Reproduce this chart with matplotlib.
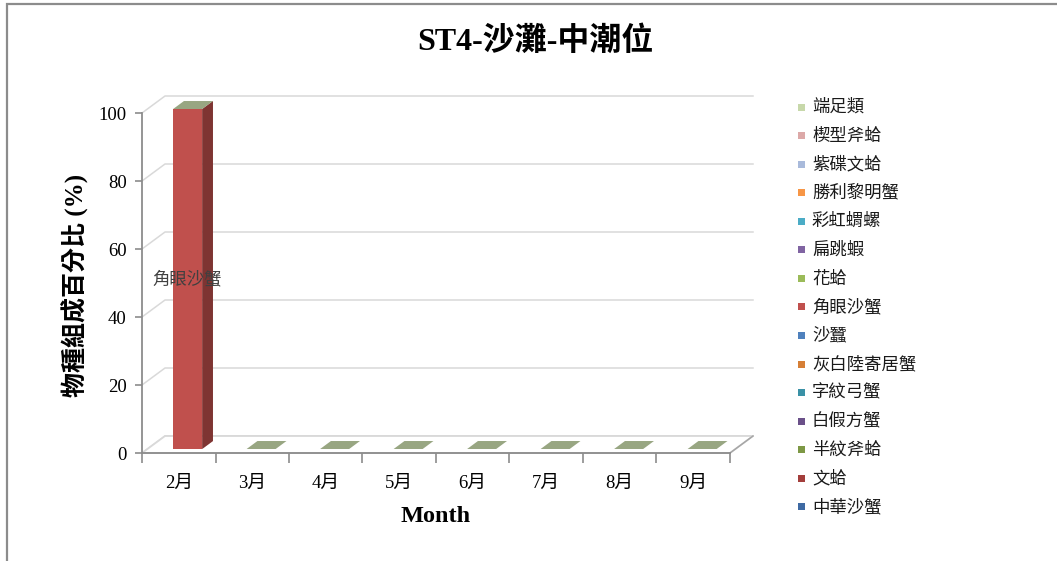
import matplotlib
matplotlib.use("Agg")
import matplotlib.pyplot as plt
from matplotlib.patches import Polygon, Rectangle
from matplotlib.lines import Line2D

plt.rcParams['font.family'] = ['Liberation Serif', 'Noto Sans CJK TC']

# ---------------- data ----------------
months = ['2月', '3月', '4月', '5月', '6月', '7月', '8月', '9月']
yticks = [0, 20, 40, 60, 80, 100]

# series in stacking order (bottom -> top); percent per month
species = ['中華沙蟹', '文蛤', '半紋斧蛤', '白假方蟹', '字紋弓蟹', '灰白陸寄居蟹',
           '沙蠶', '角眼沙蟹', '花蛤', '扁跳蝦', '彩虹蝟螺', '勝利黎明蟹',
           '紫碟文蛤', '楔型斧蛤', '端足類']
v_chinese_mole_crab = [0, 0, 0, 0, 0, 0, 0, 0]
v_hard_clam = [0, 0, 0, 0, 0, 0, 0, 0]
v_donax_semi = [0, 0, 0, 0, 0, 0, 0, 0]
v_white_crab = [0, 0, 0, 0, 0, 0, 0, 0]
v_varuna = [0, 0, 0, 0, 0, 0, 0, 0]
v_hermit = [0, 0, 0, 0, 0, 0, 0, 0]
v_worm = [0, 0, 0, 0, 0, 0, 0, 0]
v_ghost_crab = [100, 0, 0, 0, 0, 0, 0, 0]
v_manila = [0, 0, 0, 0, 0, 0, 0, 0]
v_amphipod_flat = [0, 0, 0, 0, 0, 0, 0, 0]
v_umbonium = [0, 0, 0, 0, 0, 0, 0, 0]
v_matuta = [0, 0, 0, 0, 0, 0, 0, 0]
v_purple_clam = [0, 0, 0, 0, 0, 0, 0, 0]
v_donax_cun = [0, 0, 0, 0, 0, 0, 0, 0]
v_amphipoda = [0, 0, 0, 0, 0, 0, 0, 0]
series_values = [v_chinese_mole_crab, v_hard_clam, v_donax_semi, v_white_crab,
                 v_varuna, v_hermit, v_worm, v_ghost_crab, v_manila,
                 v_amphipod_flat, v_umbonium, v_matuta, v_purple_clam,
                 v_donax_cun, v_amphipoda]

colors = ['#3E6AA3', '#A33E3B', '#7D9845', '#6A5089', '#3A91A6', '#D67F36',
          '#4F81BD', '#C0504D', '#9BBB59', '#8064A2', '#4BACC6', '#F79646',
          '#A9BADB', '#DCA9A8', '#C7D8AA']
top_face_color = '#98A682'

# ---------------- figure ----------------
W, H = 1057, 561
fig = plt.figure(figsize=(W / 100, H / 100), dpi=100)
fig.patch.set_facecolor('white')

# outer chart border (only top & left visible in the reference)
fig.patches.append(Rectangle((7 / W, -0.1), 1.2, 1 - 4 / H + 0.1,
                             transform=fig.transFigure, fill=False,
                             edgecolor='#8C8C8C', lw=1.6))

left_px, right_px, y0_px, y100_px = 142, 730, 453, 113
ax = fig.add_axes([left_px / W, (H - y0_px) / H, (right_px - left_px) / W,
                   (y0_px - y100_px) / H])
n = len(months)
ax.set_xlim(0, n)
ax.set_ylim(0, 100)
ax.patch.set_alpha(0)

px_per_x = (right_px - left_px) / n
px_per_y = (y0_px - y100_px) / 100
DX = 23 / px_per_x      # depth offset in x data units
DY = 17 / px_per_y      # depth offset in y data units


def P(x, y, d):
    return (x + d * DX, y + d * DY)


grid_c = '#D9D9D9'
axis_c = '#8C8C8C'

# walls / gridlines
for t in yticks:
    xs = [P(0, t, 0)[0], P(0, t, 1)[0], P(n, t, 1)[0]]
    ys = [P(0, t, 0)[1], P(0, t, 1)[1], P(n, t, 1)[1]]
    ax.add_line(Line2D(xs, ys, color=grid_c, lw=1.1, clip_on=False, zorder=1))
# floor
floor = [P(0, 0, 0), P(n, 0, 0), P(n, 0, 1), P(0, 0, 1)]
ax.add_patch(Polygon(floor, closed=True, facecolor='white', edgecolor=grid_c,
                     lw=1.3, clip_on=False, zorder=1))
ax.add_line(Line2D([P(n, 0, 0)[0], P(n, 0, 1)[0]], [0, P(n, 0, 1)[1]],
                   color='#A6A6A6', lw=1.1, clip_on=False, zorder=1.5))

# bars (stacked, pseudo-3D)
bx0, bw = 0.35, 0.395      # bar start within category, bar width (x units)
d0, d1 = 0.235, 0.705      # bar depth range (fraction of wall depth)
label_items = []
for i in range(n):
    bottom = 0
    for s, vals in enumerate(series_values):
        v = vals[i]
        if v <= 0:
            continue
        x0, x1 = i + bx0, i + bx0 + bw
        top = bottom + v
        c = colors[s]
        side = [P(x1, bottom, d0), P(x1, bottom, d1), P(x1, top, d1), P(x1, top, d0)]
        ax.add_patch(Polygon(side, closed=True, facecolor=c, edgecolor='none',
                             clip_on=False, zorder=3))
        ax.add_patch(Polygon(side, closed=True, facecolor='black', alpha=0.34,
                             edgecolor='none', clip_on=False, zorder=3.1))
        front = [P(x0, bottom, d0), P(x1, bottom, d0), P(x1, top, d0), P(x0, top, d0)]
        ax.add_patch(Polygon(front, closed=True, facecolor=c, edgecolor='none',
                             clip_on=False, zorder=3.2))
        cx, cy = P((x0 + x1) / 2, (bottom + top) / 2, d0)
        label_items.append((cx, cy, species[s]))
        bottom = top
    x0, x1 = i + bx0, i + bx0 + bw
    topf = [P(x0, bottom, d0), P(x1, bottom, d0), P(x1, bottom, d1), P(x0, bottom, d1)]
    ax.add_patch(Polygon(topf, closed=True, facecolor=top_face_color,
                         edgecolor='none', clip_on=False, zorder=3.3))

for cx, cy, txt in label_items:
    ax.text(cx, cy, txt, ha='center', va='center', fontsize=12.5,
            color='#404040', family=['Noto Sans CJK TC'], zorder=5)

# axes styling
for sp in ['top', 'right']:
    ax.spines[sp].set_visible(False)
for sp in ['left', 'bottom']:
    ax.spines[sp].set_color(axis_c)
    ax.spines[sp].set_linewidth(1.3)
    ax.spines[sp].set_zorder(2)

ax.set_yticks(yticks)
ax.set_yticklabels([str(t) for t in yticks])
ax.tick_params(axis='y', direction='out', length=5, width=1.2, color=axis_c,
               labelsize=13.5, pad=6)
ax.set_xticks(range(n + 1))
ax.set_xticklabels([''] * (n + 1))
ax.tick_params(axis='x', which='major', direction='out', length=7, width=1.2,
               color=axis_c)
ax.set_xticks([i + 0.5 for i in range(n)], minor=True)
ax.set_xticklabels(months, minor=True)
ax.tick_params(axis='x', which='minor', length=0, labelsize=13.5, pad=16)

# titles
fig.text(535 / W, 1 - 42 / H, 'ST4-沙灘-中潮位', ha='center', va='center',
         fontsize=23, fontweight='bold')
fig.text(436 / W, 1 - 516 / H, 'Month', ha='center', va='center',
         fontsize=17.5, fontweight='bold')
fig.text(75 / W, 1 - 285 / H, '物種組成百分比 (%)', ha='center', va='center',
         rotation=90, fontsize=18, fontweight='bold')

# legend (top entry = last series)
leg_y0, leg_dy = 107, 28.57
for k, s in enumerate(range(len(species) - 1, -1, -1)):
    y = leg_y0 + k * leg_dy
    fig.patches.append(Rectangle((798 / W, 1 - (y + 3.5) / H), 7 / W, 7 / H,
                                 transform=fig.transFigure,
                                 facecolor=colors[s], edgecolor='none'))
    fig.text(812 / W, 1 - y / H, species[s], ha='left', va='center',
             fontsize=12.5, family=['Noto Sans CJK TC'], color='#1A1A1A')

fig.savefig('out.png', dpi=100)
